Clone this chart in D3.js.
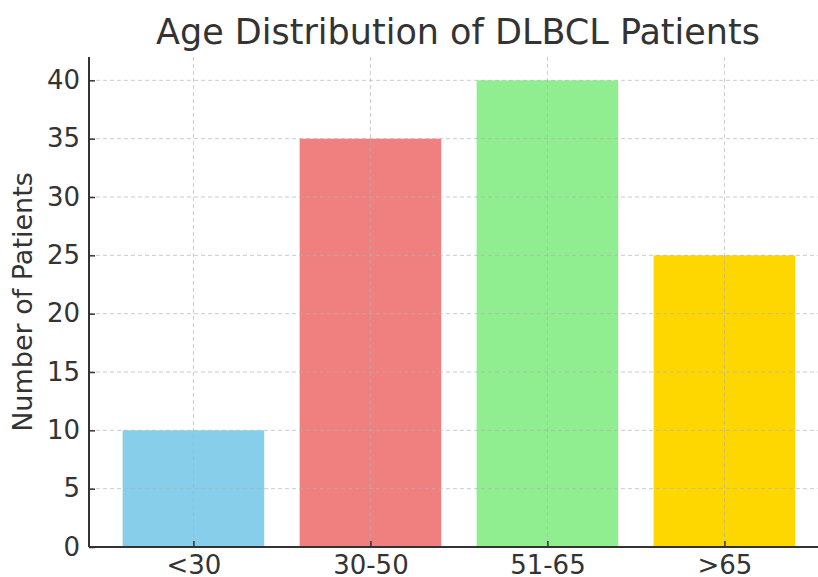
<!DOCTYPE html>
<html>
<head>
<meta charset="utf-8">
<script src="https://cdnjs.cloudflare.com/ajax/libs/d3/7.8.5/d3.min.js"></script>
<style>
  body { margin: 0; background: #fff; }
  svg text { font-family: "DejaVu Sans", sans-serif; fill: #333; }
</style>
</head>
<body>
<svg id="chart" width="818" height="577"></svg>
<script>
// data
const ageGroups = ["<30", "30-50", "51-65", ">65"];
const patients = [10, 35, 40, 25];
const barColors = ["#87ceeb", "#f08080", "#90ee90", "#ffd700"];
const yTicks = [0, 5, 10, 15, 20, 25, 30, 35, 40];

let plotLeft = 89, plotTop = 57, plotBottom = 547;
// x axis runs past the right edge of the picture (cropped)
let step = 177;
let plotRight = plotLeft + 4.18 * step;

const svg = d3.select("#chart");

// category index -> pixel, matplotlib style limits
let xScale = d3.scaleLinear()
    .domain([-0.59, 3.59])
    .range([plotLeft, plotRight]);

let yScale = d3.scaleLinear()
    .domain([0, 42])
    .range([plotBottom, plotTop]);

// bars
svg.append("g").selectAll("rect").data(patients).enter().append("rect")
    .attr("x", (d, i) => xScale(i - 0.4))
    .attr("width", xScale(0.8) - xScale(0))
    .attr("y", d => yScale(d))
    .attr("height", d => yScale(0) - yScale(d))
    .attr("fill", (d, i) => barColors[i]);

// grid (drawn over the bars, like the picture)
let grid = svg.append("g");
grid.selectAll("line.h").data(yTicks).enter().append("line")
    .attr("class", "h")
    .attr("x1", plotLeft).attr("x2", plotRight)
    .attr("y1", d => yScale(d)).attr("y2", d => yScale(d));
grid.selectAll("line.v").data(ageGroups).enter().append("line")
    .attr("class", "v")
    .attr("x1", (d, i) => xScale(i)).attr("x2", (d, i) => xScale(i))
    .attr("y1", plotTop).attr("y2", plotBottom);
grid.selectAll("line")
    .attr("stroke", "#b0b0b0").attr("stroke-opacity", 0.65)
    .attr("stroke-width", 1)
    .attr("stroke-dasharray", "4,3");

// y axis
let yAxis = d3.axisLeft(yScale)
    .tickValues(yTicks)
    .tickSize(-6)
    .tickPadding(9);
let y = svg.append("g")
    .attr("transform", "translate(" + plotLeft + ",0)")
    .call(yAxis);
y.select(".domain").attr("stroke", "#333").attr("stroke-width", 2)
    .attr("d", "M0," + plotTop + "V" + plotBottom);
y.selectAll(".tick line").attr("stroke", "#333").attr("stroke-width", 1.5);
y.selectAll("text").style("font-size", "26px").attr("fill", "#333")
    .attr("font-family", "DejaVu Sans");

// x axis
let xAxis = d3.axisBottom(xScale)
    .tickValues([0, 1, 2, 3])
    .tickFormat(i => ageGroups[i])
    .tickSize(-6)
    .tickPadding(9);
let x = svg.append("g")
    .attr("transform", "translate(0," + plotBottom + ")")
    .call(xAxis);
x.select(".domain").attr("stroke", "#333").attr("stroke-width", 2)
    .attr("d", "M" + plotLeft + ",0H" + plotRight);
x.selectAll(".tick line").attr("stroke", "#333").attr("stroke-width", 1.5);
x.selectAll("text").style("font-size", "26px").attr("fill", "#333")
    .attr("font-family", "DejaVu Sans");

// title
svg.append("text")
    .attr("x", 458)
    .attr("y", 44)
    .attr("text-anchor", "middle")
    .style("font-size", "35px")
    .text("Age Distribution of DLBCL Patients");

// y label
svg.append("text")
    .attr("transform", "translate(32," + (plotTop + plotBottom) / 2 + ") rotate(-90)")
    .attr("text-anchor", "middle")
    .style("font-size", "27px")
    .text("Number of Patients");
</script>
</body>
</html>
